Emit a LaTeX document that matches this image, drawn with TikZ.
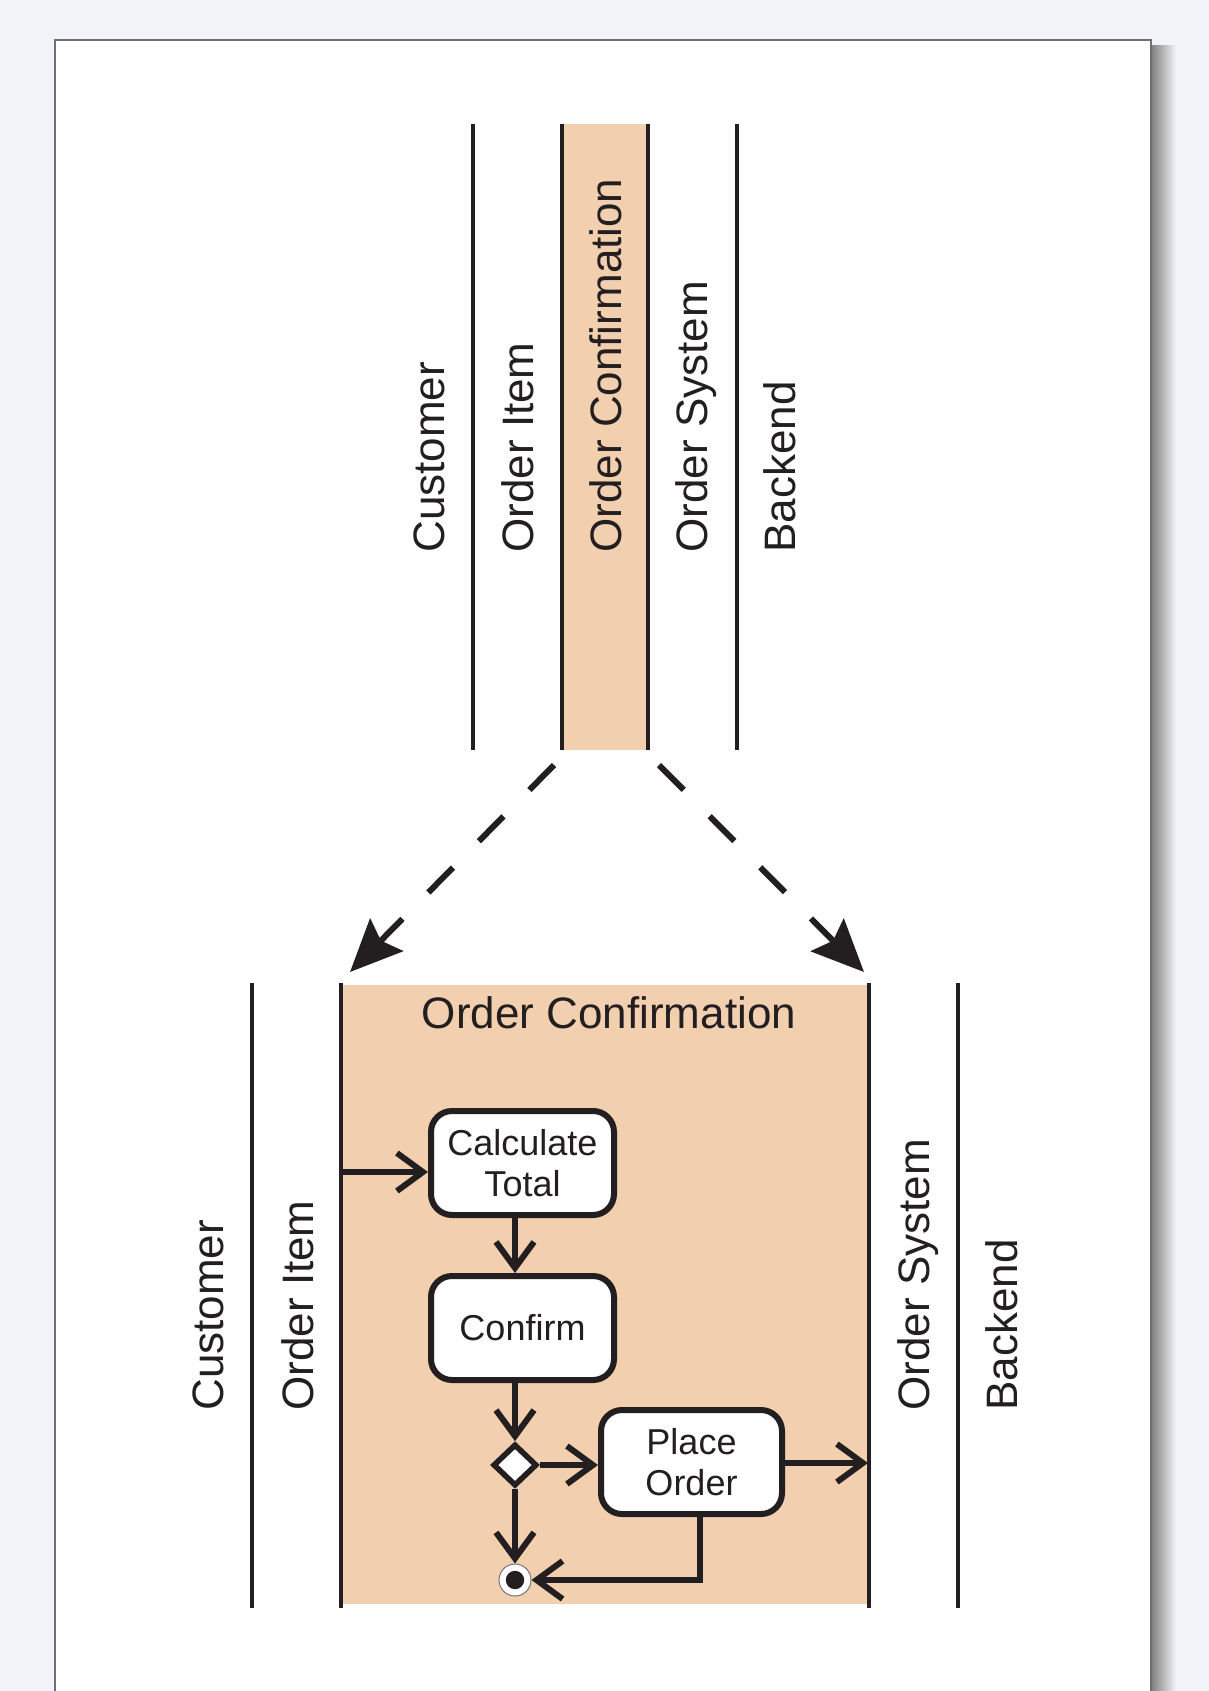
\documentclass[tikz,border=0pt]{standalone}
\usepackage{fontspec}
\setmainfont{Liberation Sans}
\usetikzlibrary{arrows.meta,shapes.geometric}
\definecolor{pagebg}{RGB}{242,243,248}
\definecolor{peach}{RGB}{242,207,174}
\definecolor{ink}{RGB}{35,31,32}
\definecolor{frameline}{RGB}{112,112,116}

\begin{document}
\begin{tikzpicture}[x=0.5pt,y=-0.5pt,
  lane/.style={draw=ink, line width=2.4pt},
  lanelabel/.style={rotate=90, anchor=base west, inner sep=0pt, text=ink,
    font=\fontsize{22pt}{26pt}\selectfont},
  titlelabel/.style={anchor=base, inner sep=0pt, text=ink,
    font=\fontsize{22pt}{26pt}\selectfont},
  activity/.style={rectangle, draw=ink, fill=white, line width=3pt,
    rounded corners=10.5pt, minimum width=91.5pt, minimum height=52pt,
    inner sep=0pt, align=center, text=ink,
    font=\fontsize{18pt}{20.5pt}\selectfont},
  decision/.style={diamond, draw=ink, fill=white, line width=2.8pt,
    minimum width=22pt, minimum height=21pt, inner sep=0pt},
  endnode/.style={circle, draw=black!55, line width=0.5pt, fill=white,
    minimum size=16pt, inner sep=0pt,
    path picture={\fill[ink] (path picture bounding box.center) circle (4.6pt);}},
  flow/.style={draw=ink, line width=3pt,
    -{Straight Barb[sharp, length=13pt, width=19pt]}},
  zoomline/.style={draw=ink, line width=3pt, dash pattern=on 17.5pt off 18.5pt,
    -{Stealth[length=26pt,width=23pt,inset=4pt]}},
]
\useasboundingbox (0,0) rectangle (1209,1691);
\clip (0,0) rectangle (1209,1691);

% sheet with its drop shadow
\fill[pagebg] (0,0) rectangle (1209,1691);
\shade[left color=black!50, right color=pagebg] (1151,46) rectangle (1176,1691);
\filldraw[fill=white, draw=frameline, line width=1pt] (55,40) rectangle (1151,1720);

% ---- overview: five swimlanes, one highlighted
\fill[peach] (562,124) rectangle (648,750);
\draw[lane] (473,124) -- (473,750);
\draw[lane] (562,124) -- (562,750);
\draw[lane] (648,124) -- (648,750);
\draw[lane] (737,124) -- (737,750);

\node[lanelabel] (t-cust) at (444,553) {Customer};
\node[lanelabel] (t-item) at (533,553) {Order Item};
\node[lanelabel] (t-conf) at (621,553) {Order Confirmation};
\node[lanelabel] (t-sys)  at (707,553) {Order System};
\node[lanelabel] (t-back) at (795,553) {Backend};

% ---- zoom arrows
\coordinate (zs1) at (554,765); \coordinate (ze1) at (350,972);
\coordinate (zs2) at (659,765); \coordinate (ze2) at (864,972);
\draw[zoomline] (zs1) -- (ze1);
\draw[zoomline] (zs2) -- (ze2);

% ---- detail: expanded Order Confirmation lane
\fill[peach] (341,985) rectangle (869,1604);
\draw[lane] (252,983) -- (252,1608);
\draw[lane] (341,983) -- (341,1608);
\draw[lane] (869,983) -- (869,1608);
\draw[lane] (958,983) -- (958,1608);

\node[lanelabel] (b-cust) at (223,1411) {Customer};
\node[lanelabel] (b-item) at (313,1411) {Order Item};
\node[lanelabel] (b-sys)  at (929,1411) {Order System};
\node[lanelabel] (b-back) at (1017,1411) {Backend};
\node[titlelabel] (b-title) at (609,1028) {Order Confirmation};

% activities
\node[activity] (calc) at (522.5,1163) {Calculate\\Total};
\node[activity] (conf) at (522.5,1328) {Confirm};
\node[decision] (dec) at (515,1465) {};
\node[activity, minimum width=90.5pt] (place) at (691.5,1462) {Place\\Order};
\node[endnode] (fin) at (515,1580) {};

\coordinate (inlet) at (341,1172);
\coordinate (outlet) at (868,1463);
\coordinate (bend) at (700,1580);

% control flow
\draw[flow] (inlet) -- (calc.west |- inlet);
\draw[flow] (calc.south -| dec) -- (conf.north -| dec);
\draw[flow] (conf.south -| dec) -- (dec.north);
\draw[flow] (dec.east) -- (place.west |- dec.east);
\draw[flow] (place.east |- outlet) -- (outlet);
\draw[flow] (dec.south) -- (fin.north);
\draw[flow] (place.south -| bend) -- (bend) -- (fin.east);
\end{tikzpicture}
\end{document}
